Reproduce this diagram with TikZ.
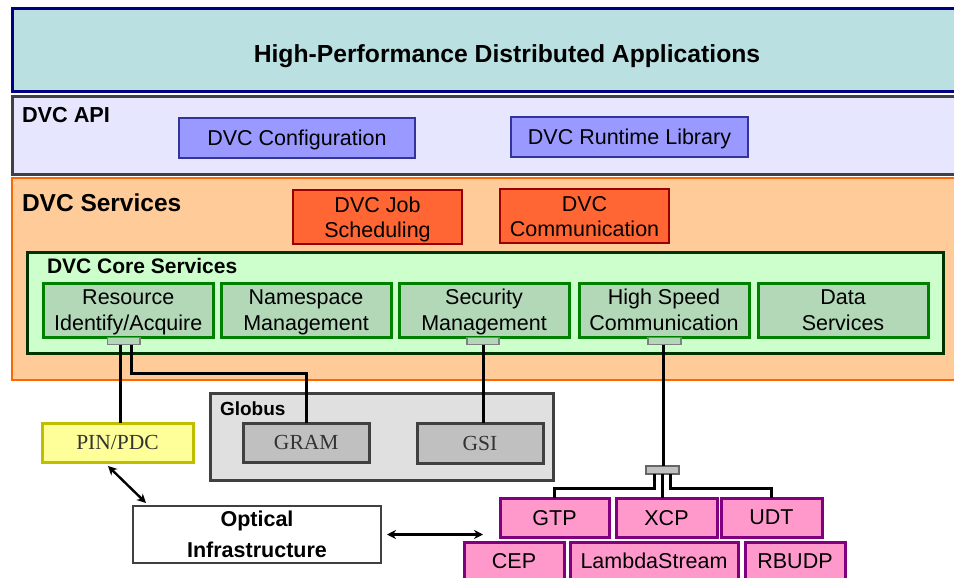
\documentclass[tikz,border=0pt]{standalone}
\usepackage{fontspec}
\setmainfont{Liberation Sans}
\newfontfamily\serifface{Liberation Serif}
\usetikzlibrary{arrows.meta}

\definecolor{appfill}{HTML}{BAE0E2}
\definecolor{appline}{HTML}{000080}
\definecolor{apifill}{HTML}{E6E6FF}
\definecolor{darkline}{HTML}{404040}
\definecolor{cfgfill}{HTML}{9999FF}
\definecolor{cfgline}{HTML}{333399}
\definecolor{svcfill}{HTML}{FFCC99}
\definecolor{svcline}{HTML}{FF6600}
\definecolor{jobfill}{HTML}{FF6633}
\definecolor{jobline}{HTML}{990000}
\definecolor{corefill}{HTML}{CCFFCC}
\definecolor{coreline}{HTML}{003300}
\definecolor{modfill}{HTML}{B2D8B8}
\definecolor{modline}{HTML}{008000}
\definecolor{tabline}{HTML}{808080}
\definecolor{glbfill}{HTML}{E0E0E0}
\definecolor{gramfill}{HTML}{C0C0C0}
\definecolor{serifgray}{HTML}{333333}
\definecolor{pinfill}{HTML}{FFFF99}
\definecolor{pinline}{HTML}{BFBF00}
\definecolor{protofill}{HTML}{FF99CC}
\definecolor{protoline}{HTML}{800080}

\begin{document}
\begin{tikzpicture}[x=1pt,y=-1pt,
  every node/.style={inner sep=0pt, outer sep=0pt, text depth=0pt, align=center,
    font=\fontsize{21.5}{26}\selectfont},
  box/.style={draw, rectangle, anchor=north west},
  band/.style={box, line width=3pt},
  label/.style={anchor=base west, font=\fontsize{21.7}{26}\selectfont\bfseries},
  apibox/.style={box, line width=2.5pt, fill=cfgfill, draw=cfgline},
  jobbox/.style={box, line width=2.5pt, fill=jobfill, draw=jobline,
    font=\fontsize{21.5}{25}\selectfont},
  module/.style={box, line width=3pt, fill=modfill, draw=modline},
  tab/.style={box, line width=1.2pt, fill=modfill, draw=tabline},
  grambox/.style={box, line width=3pt, fill=gramfill, draw=darkline,
    text=serifgray, font=\fontsize{21.5}{26}\serifface},
  proto/.style={box, line width=3pt, fill=protofill, draw=protoline},
  conn/.style={line width=3pt, black, line join=miter},
  arr/.style={line width=2.4pt, black,
    {Stealth[length=9pt,width=9pt]}-{Stealth[length=9pt,width=9pt]}}]

\clip (0,0) rectangle (954,578);

% layered bands
\node[band, fill=appfill, draw=appline, minimum width=960, minimum height=83] (app) at (12,9) {};
\node[anchor=base, font=\fontsize{24.7}{28}\selectfont\bfseries] (apptitle) at (507,63)
  {High-Performance Distributed Applications};

\node[band, fill=apifill, draw=darkline, minimum width=960, minimum height=77] (api) at (12,97) {};
\node[label] (apilabel) at (22,123) {DVC API};
\node[apibox, minimum width=236, minimum height=40] (cfg) at (179,118) {DVC Configuration};
\node[apibox, minimum width=237, minimum height=40] (rtl) at (511,117) {DVC Runtime Library};

\node[band, line width=2.5pt, fill=svcfill, draw=svcline, minimum width=960, minimum height=202] (svc) at (12,178) {};
\node[label, font=\fontsize{24.5}{28}\selectfont\bfseries] (svclabel) at (22,211) {DVC Services};
\node[jobbox, minimum width=169, minimum height=54] (job) at (293,190) {DVC Job\\Scheduling};
\node[jobbox, minimum width=169, minimum height=54] (comm) at (500,189) {DVC\\Communication};

% core services
\node[band, fill=corefill, draw=coreline, minimum width=916, minimum height=101] (core) at (27,252) {};
\node[label, font=\fontsize{21}{26}\selectfont\bfseries] (corelabel) at (47,273) {DVC Core Services};
\node[module, minimum width=169.5, minimum height=54] (res) at (43.5,283) {Resource\\Identify/Acquire};
\node[module, minimum width=170, minimum height=54] (ns) at (221,283) {Namespace\\Management};
\node[module, minimum width=170, minimum height=54] (sec) at (399,283) {Security\\Management};
\node[module, minimum width=170, minimum height=54] (hsc) at (579,283) {High Speed\\Communication};
\node[module, minimum width=170, minimum height=54] (data) at (758,283) {Data\\Services};

\node[tab, minimum width=32.5, minimum height=7] (tabR) at (107.5,337.5) {};
\node[tab, minimum width=32, minimum height=7] (tabS) at (467,337.5) {};
\node[tab, minimum width=33, minimum height=7] (tabH) at (648,337.5) {};

% Globus toolkit
\node[band, fill=glbfill, draw=darkline, minimum width=343, minimum height=87] (globus) at (210,393) {};
\node[label, font=\fontsize{19}{22}\selectfont\bfseries] (glblabel) at (220,415) {Globus};
\node[grambox, minimum width=125.5, minimum height=39] (gram) at (243.5,423) {GRAM};
\node[grambox, minimum width=126, minimum height=40] (gsi) at (417,423) {GSI};

% PIN/PDC and optical layer
\node[box, line width=3pt, fill=pinfill, draw=pinline, text=serifgray,
  font=\fontsize{21.5}{26}\serifface, minimum width=151, minimum height=39] (pin) at (42,423) {PIN/PDC};
\node[box, line width=2.5pt, fill=white, draw=darkline, minimum width=248, minimum height=57,
  font=\fontsize{21.5}{31}\selectfont\bfseries] (optical) at (133,506) {Optical\\Infrastructure};

% transport protocols
\node[box, line width=1.5pt, fill=gramfill, draw=darkline!80, minimum width=33, minimum height=8] (hub) at (646,466) {};
\node[proto, minimum width=109, minimum height=39] (gtp) at (500,498) {GTP};
\node[proto, minimum width=101, minimum height=39] (xcp) at (616,498) {XCP};
\node[proto, minimum width=101, minimum height=39] (udt) at (721,498) {UDT};
\node[proto, minimum width=100, minimum height=45] (cep) at (464,542) {};
\node[proto, minimum width=168, minimum height=45] (lambda) at (570,542) {};
\node[proto, minimum width=100, minimum height=45] (rbudp) at (745,542) {};
\node[anchor=base] (ceptext) at (cep.north |- 0,568) {CEP};
\node[anchor=base] (lambdatext) at (lambda.north |- 0,568) {LambdaStream};
\node[anchor=base] (rbudptext) at (rbudp.north |- 0,568) {RBUDP};

% connectors
\draw[conn] ([xshift=12.5]tabR.south west) -- ([xshift=12.5]tabR.south west |- pin.north);
\draw[conn] ([xshift=23.5]tabR.south west) -- ++(0,29) -| (gram.north);
\draw[conn] (tabS.south) -- (tabS.south |- gsi.north);
\draw[conn] ([xshift=-1.5]tabH.south) -- ([xshift=-1.5]tabH.south |- hub.north);
\draw[conn] ([xshift=8]hub.south west) -- ++(0,14) -| (gtp.north);
\draw[conn] (hub.south) -- (hub.south |- xcp.north);
\draw[conn] ([xshift=-9]hub.south east) -- ++(0,14) -| (udt.north);

\draw[arr] ([shift={(66,4)}]pin.south west) -- ([shift={(13,-3)}]optical.north west);
\draw[arr] ([xshift=6]optical.east) -- ([xshift=102]optical.east);
\end{tikzpicture}
\end{document}
